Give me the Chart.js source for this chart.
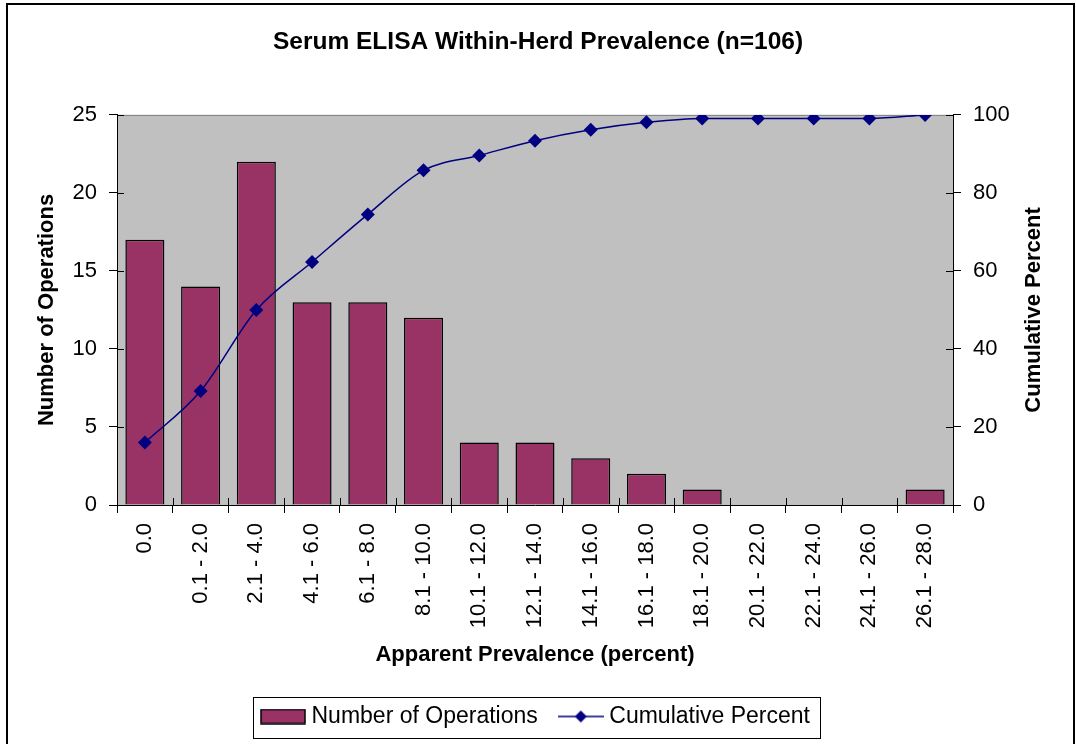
<!DOCTYPE html>
<html>
<head>
<meta charset="utf-8">
<script src="https://cdn.jsdelivr.net/npm/chart.js@4.4.1/dist/chart.umd.min.js"></script>
<style>
html, body { margin: 0; padding: 0; background: #fff; }
#wrap { width: 1076px; height: 744px; position: relative; }
</style>
</head>
<body>
<div id="wrap"><canvas id="c" width="1076" height="744"></canvas></div>
<script>
const categories = ['0.0', '0.1 - 2.0', '2.1 - 4.0', '4.1 - 6.0', '6.1 - 8.0', '8.1 - 10.0',
  '10.1 - 12.0', '12.1 - 14.0', '14.1 - 16.0', '16.1 - 18.0', '18.1 - 20.0',
  '20.1 - 22.0', '22.1 - 24.0', '24.1 - 26.0', '26.1 - 28.0'];
const operations = [17, 14, 22, 13, 13, 12, 4, 4, 3, 2, 1, 0, 0, 0, 1];
const cumulativePercent = [16.0, 29.2, 50.0, 62.3, 74.5, 85.8, 89.6, 93.4, 96.2, 98.1, 99.1, 99.1, 99.1, 99.1, 100.0];
const leftTicks = [0, 5, 10, 15, 20, 25];
const rightTicks = [0, 20, 40, 60, 80, 100];

const FONT = "'Liberation Sans', Arial, Helvetica, sans-serif";
const BAR_COLOR = '#993366';
const LINE_COLOR = '#000080';

Chart.defaults.font.family = FONT;
Chart.defaults.color = '#000';

function barMarker() {
  const c = document.createElement('canvas');
  c.width = 46; c.height = 16;
  const x = c.getContext('2d');
  x.fillStyle = BAR_COLOR; x.fillRect(1, 1, 44, 14);
  x.strokeStyle = '#000'; x.lineWidth = 1.5; x.strokeRect(1, 1, 44, 14);
  return c;
}
function lineMarker() {
  const c = document.createElement('canvas');
  c.width = 46; c.height = 16;
  const x = c.getContext('2d');
  x.strokeStyle = LINE_COLOR; x.lineWidth = 1.5;
  x.beginPath(); x.moveTo(0, 8); x.lineTo(46, 8); x.stroke();
  x.fillStyle = LINE_COLOR;
  x.beginPath(); x.moveTo(23, 2); x.lineTo(29, 8); x.lineTo(23, 14); x.lineTo(17, 8); x.closePath(); x.fill();
  return c;
}
const markers = { bar: barMarker(), line: lineMarker() };

const decor = {
  id: 'decor',
  beforeDraw(chart) {
    const { ctx, chartArea: a } = chart;
    ctx.save();
    ctx.fillStyle = '#fff';
    ctx.fillRect(0, 0, chart.width, chart.height);
    ctx.strokeStyle = '#000';
    ctx.lineWidth = 2;
    ctx.beginPath();
    ctx.moveTo(7, 800); ctx.lineTo(7, 4); ctx.lineTo(1074, 4); ctx.lineTo(1074, 800);
    ctx.stroke();
    ctx.fillStyle = '#C0C0C0';
    ctx.fillRect(a.left, a.top, a.right - a.left, a.bottom - a.top);
    ctx.strokeStyle = '#808080';
    ctx.lineWidth = 1;
    ctx.beginPath(); ctx.moveTo(a.left, a.top + 0.5); ctx.lineTo(a.right, a.top + 0.5); ctx.stroke();
    ctx.restore();
  },
  afterDraw(chart) {
    const { ctx, chartArea: a, scales } = chart;
    ctx.save();
    ctx.strokeStyle = '#000';
    ctx.lineWidth = 1;
    ctx.beginPath();
    scales.y.ticks.forEach((t, i) => {
      const py = Math.round(scales.y.getPixelForTick(i)) + 0.5;
      ctx.moveTo(a.left, py); ctx.lineTo(a.left + 7, py);
    });
    scales.y1.ticks.forEach((t, i) => {
      const py = Math.round(scales.y1.getPixelForTick(i)) + 0.5;
      ctx.moveTo(a.right, py); ctx.lineTo(a.right - 7, py);
    });
    const n = categories.length;
    for (let i = 0; i <= n; i++) {
      let px;
      if (i === 0) px = a.left;
      else if (i === n) px = a.right;
      else px = (scales.x.getPixelForTick(i - 1) + scales.x.getPixelForTick(i)) / 2;
      px = Math.round(px) + 0.5;
      ctx.moveTo(px, a.bottom); ctx.lineTo(px, a.bottom - 7);
    }
    ctx.stroke();

    // right axis title, reading bottom to top
    ctx.fillStyle = '#000';
    ctx.font = 'bold 22px ' + FONT;
    ctx.textAlign = 'center';
    ctx.textBaseline = 'middle';
    ctx.translate(1034, (a.top + a.bottom) / 2);
    ctx.rotate(-Math.PI / 2);
    ctx.fillText('Cumulative Percent', 0, 0);
    ctx.restore();

    // legend frame
    const hb = chart.legend.legendHitBoxes;
    if (hb && hb.length) {
      const left = Math.min(...hb.map(h => h.left)) - 13;
      const right = Math.max(...hb.map(h => h.left + h.width)) + 10;
      const top = hb[0].top - 8;
      const bottom = hb[0].top + hb[0].height + 10;
      ctx.save();
      ctx.strokeStyle = '#000';
      ctx.lineWidth = 1;
      ctx.strokeRect(Math.round(left) + 0.5, Math.round(top) + 0.5, Math.round(right - left), Math.round(bottom - top));
      ctx.restore();
    }
  }
};

new Chart(document.getElementById('c'), {
  type: 'bar',
  data: {
    labels: categories,
    datasets: [
      {
        type: 'line',
        label: 'Cumulative Percent',
        data: cumulativePercent,
        yAxisID: 'y1',
        borderColor: LINE_COLOR,
        backgroundColor: LINE_COLOR,
        borderWidth: 1.5,
        pointStyle: 'rectRot',
        pointRadius: 7,
        pointBorderWidth: 0,
        pointBackgroundColor: LINE_COLOR,
        cubicInterpolationMode: 'monotone',
        fill: false
      },
      {
        type: 'bar',
        label: 'Number of Operations',
        data: operations,
        yAxisID: 'y',
        backgroundColor: BAR_COLOR,
        borderColor: '#000',
        borderWidth: 1.5,
        barPercentage: 0.7,
        categoryPercentage: 1.0
      }
    ]
  },
  options: {
    responsive: false,
    devicePixelRatio: 1,
    animation: false,
    layout: { padding: { top: 0, left: 0, right: 0, bottom: 6 } },
    plugins: {
      tooltip: { enabled: false },
      title: {
        display: true,
        text: 'Serum ELISA Within-Herd Prevalence (n=106)',
        color: '#000',
        font: { size: 24.5, weight: 'bold', family: FONT },
        padding: { top: 27.2, bottom: 58.3 }
      },
      legend: {
        display: true,
        position: 'bottom',
        labels: {
          usePointStyle: true,
          pointStyleWidth: 34,
          padding: 26,
          color: '#000',
          font: { size: 23, family: FONT },
          generateLabels(chart) {
            return [
              { text: 'Number of Operations', pointStyle: markers.bar, datasetIndex: 1, fillStyle: BAR_COLOR, strokeStyle: '#000', lineWidth: 0, hidden: false },
              { text: 'Cumulative Percent', pointStyle: markers.line, datasetIndex: 0, fillStyle: LINE_COLOR, strokeStyle: LINE_COLOR, lineWidth: 0, hidden: false }
            ];
          }
        }
      }
    },
    scales: {
      x: {
        offset: true,
        grid: { display: true, drawOnChartArea: false, offset: true, tickLength: 8, color: '#000', lineWidth: 1 },
        border: { display: true, color: '#000', width: 1 },
        ticks: { autoSkip: false, maxRotation: 90, minRotation: 90, padding: 10, font: { size: 22 }, color: '#000' },
        title: { display: true, text: 'Apparent Prevalence (percent)', color: '#000', font: { size: 22, weight: 'bold' }, padding: { top: 0, bottom: 10.8 } },
        afterFit(s) { s.height = 174; }
      },
      y: {
        position: 'left',
        min: 0, max: 25,
        afterBuildTicks(s) { s.ticks = leftTicks.map(v => ({ value: v })); },
        grid: { display: true, drawOnChartArea: false, tickLength: 8, color: '#000', lineWidth: 1 },
        border: { display: true, color: '#000', width: 1 },
        ticks: { padding: 12, font: { size: 22 }, color: '#000' },
        title: { display: true, text: 'Number of Operations', color: '#000', font: { size: 22, weight: 'bold' }, padding: { top: 33.8, bottom: 0 } },
        afterFit(s) { s.width = 117; }
      },
      y1: {
        position: 'right',
        min: 0, max: 100,
        afterBuildTicks(s) { s.ticks = rightTicks.map(v => ({ value: v })); },
        grid: { display: true, drawOnChartArea: false, tickLength: 8, color: '#000', lineWidth: 1 },
        border: { display: true, color: '#000', width: 1 },
        ticks: { padding: 12, font: { size: 22 }, color: '#000' },
        title: { display: false },
        afterFit(s) { s.width = 123; }
      }
    }
  },
  plugins: [decor]
});
</script>
</body>
</html>
